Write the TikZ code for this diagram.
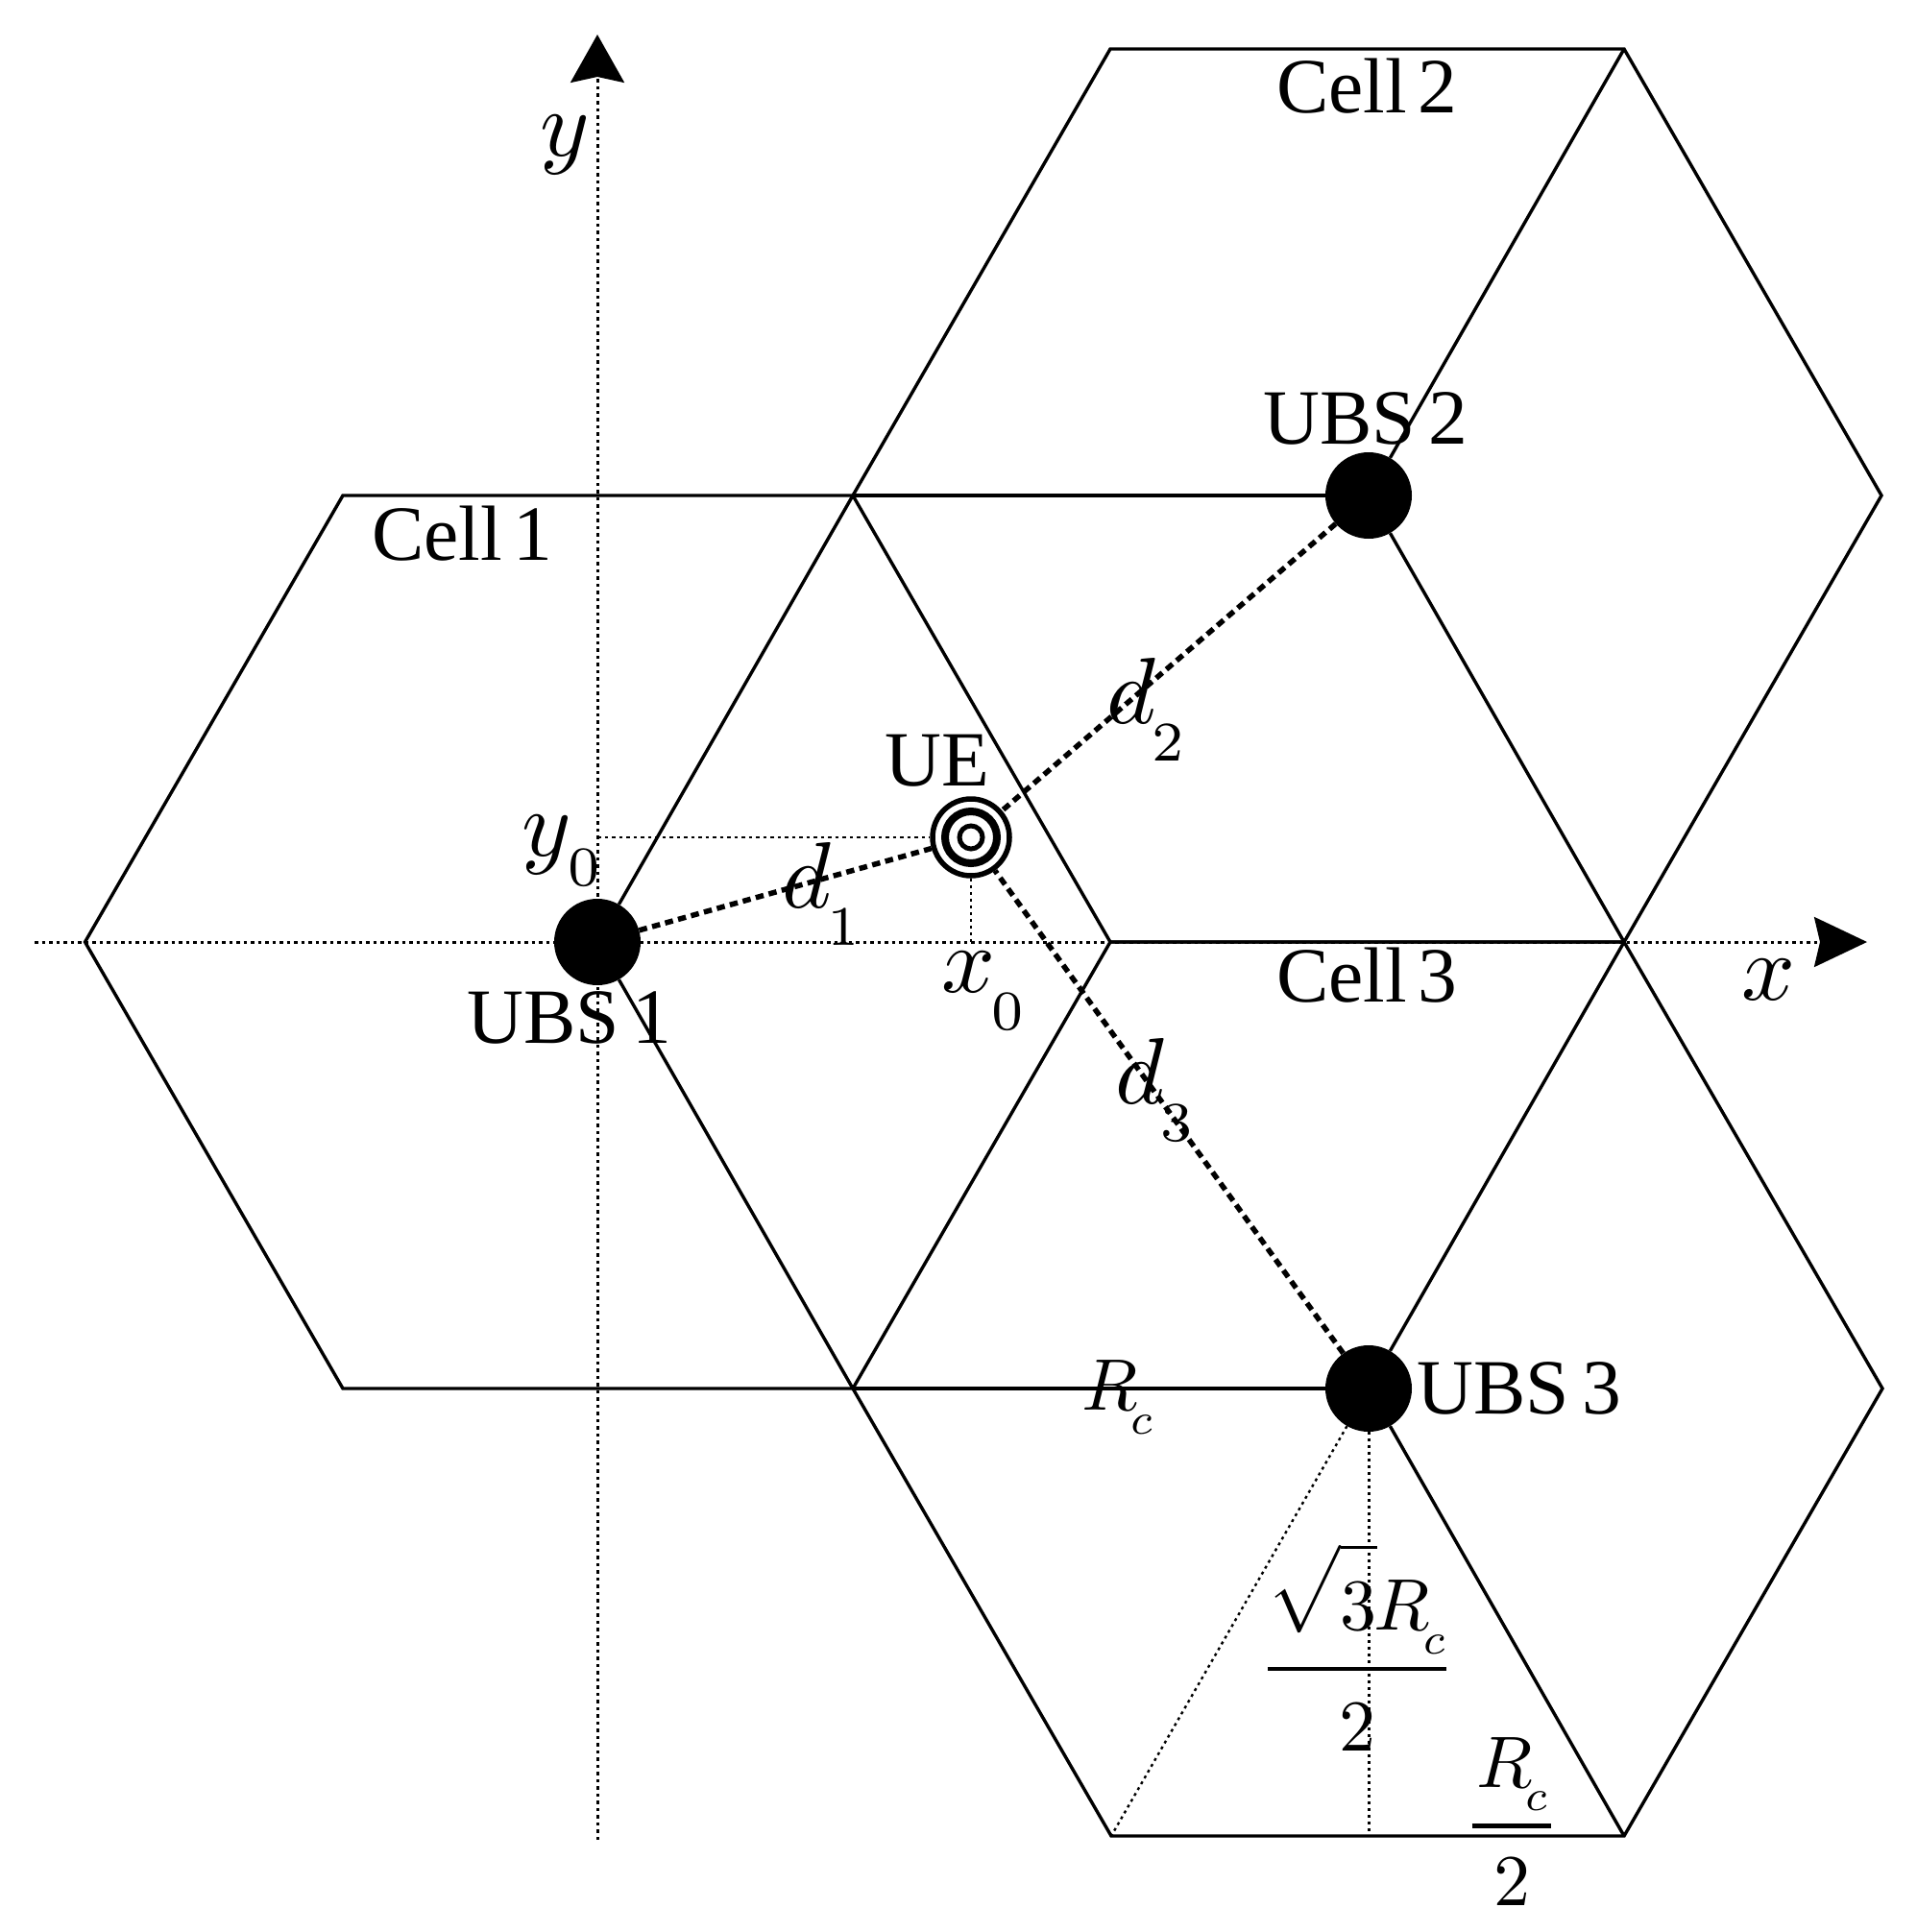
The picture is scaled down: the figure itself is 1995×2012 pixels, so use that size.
\documentclass[tikz,border=0pt]{standalone}
\usepackage[no-math]{fontspec}
\usepackage{graphicx}
\setmainfont{Liberation Serif}
\usetikzlibrary{arrows.meta}
\newcommand{\lsub}[2]{$#1$\kern-.4pt\raisebox{-4pt}{\scalebox{.85}{$\scriptstyle #2$}}}
\newcommand{\Rcc}{R\kern-1pt\raisebox{-3.2pt}{\scalebox{.85}{$\scriptstyle c$}}}
\tikzset{
  hex/.style={line width=3.4pt,line join=miter},
  axis/.style={line width=3pt,dash pattern=on 3.5pt off 4pt},
  fine/.style={line width=2.4pt,dash pattern=on 3pt off 4pt},
  link/.style={line width=5.5pt,dash pattern=on 8.5pt off 5.5pt},
  txt/.style={scale=8.15,inner sep=0pt},
  mth/.style={scale=9.8,inner sep=0pt},
  mthr/.style={scale=7.6,inner sep=0pt},
  ubs/.style={circle,fill=black,inner sep=0pt,minimum size=90pt},
  ring/.style={circle,draw=black,line width=5pt,inner sep=0pt},
}
\begin{document}
\begin{tikzpicture}[x=1pt,y=-1pt]
\useasboundingbox (0,0) rectangle (1995,2012);
\coordinate (L) at (88.5,981);
\coordinate (A) at (357,516);
\coordinate (B) at (888,516);
\coordinate (C) at (1156,981);
\coordinate (D) at (888,1446);
\coordinate (E) at (357,1446);
\coordinate (F) at (1156,51);
\coordinate (G) at (1691,51);
\coordinate (H) at (1959,516);
\coordinate (I) at (1691,981);
\coordinate (J) at (1960,1446);
\coordinate (K) at (1691,1912);
\coordinate (M) at (1157,1912);
\coordinate (N) at (1425,1912);
\coordinate (xs) at (36,981);
\coordinate (xe) at (1944,981);
\coordinate (ys) at (622,1916);
\coordinate (ye) at (622,36);
\coordinate (xf) at (1011,981);
\coordinate (yf) at (622,872);
\node[ubs] (u1) at (622,981) {};
\node[ubs] (u2) at (1425,516) {};
\node[ubs] (u3) at (1425,1446) {};
\node[ring,minimum size=80pt,line width=5.5pt] (ue) at (1011,872) {};
\node[ring,minimum size=54pt,line width=8pt] (uea) at (1011,872) {};
\node[ring,minimum size=24pt,line width=5pt] (ueb) at (1011,872) {};
% axes
\draw[axis,-{Stealth[length=55pt,width=52pt,inset=6pt,sep=0pt]}] (xs) -- (xe);
\draw[axis,-{Stealth[length=50pt,width=56pt,inset=6pt,sep=0pt]}] (ys) -- (ye);
% hexagons
\draw[hex] (L) -- (A) -- (B) -- (C) -- (D) -- (E) -- cycle;
\draw[hex] (B) -- (F) -- (G) -- (H) -- (I) -- (C);
\draw[hex] (C) -- (I) -- (J) -- (K) -- (M) -- (D);
\draw[hex] (u1) -- (B);
\draw[hex] (u1) -- (D);
\draw[hex] (B) -- (u2);
\draw[hex] (u2) -- (G);
\draw[hex] (u2) -- (I);
\draw[hex] (D) -- (u3);
\draw[hex] (u3) -- (I);
\draw[hex] (u3) -- (K);
% fine helpers
\draw[fine] (u3) -- (M);
\draw[fine,line width=3pt] (u3) -- (N);
\draw[axis,line width=2.8pt] (yf -| ys) -- (ue);
\draw[fine] (ue) -- (xf);
% links
\draw[link] (u1) -- (ue);
\draw[link] (u2) -- (ue);
\draw[link] (u3) -- (ue);
% labels
\node[txt] (c1) at (481,556) {Cell\kern.14em 1};
\node[txt] (c2) at (1423,90) {Cell\kern.14em 2};
\node[txt] (c3) at (1423,1016) {Cell\kern.14em 3};
\node[txt] (l1) at (593,1060) {UBS\kern.17em 1};
\node[txt] (l2) at (1422,436) {UBS\kern.17em 2};
\node[txt] (l3) at (1582,1446) {UBS\kern.17em 3};
\node[txt] (lue) at (976,792) {UE};
\node[mth] (ly) at (588,151) {$y$};
\node[mth] (lx) at (1841,1020) {$x$};
\node[mth] (ly0) at (584,886) {$y$\kern-.3pt\raisebox{-3.2pt}{\scalebox{.85}{$\scriptstyle 0$}}};
\node[mth] (lx0) at (1023,1032) {\lsub{x}{0}};
\node[mth] (d1) at (854.5,931) {\lsub{d}{1}};
\node[mth] (d2) at (1193,739) {\lsub{d}{2}};
\node[mth] (d3) at (1202,1135) {\lsub{d}{3}};
\node[mthr] (rc) at (1163,1455) {$\Rcc$};
\node[mthr] (f1) at (1413,1715) {$\displaystyle{\sqrt{\rule{0pt}{10.3pt}3}\kern-.4pt\Rcc\kern.2pt \above .6pt \rule{0pt}{9.1pt}2}$};
\node[mthr] (f2) at (1574,1897) {$\displaystyle{\kern.6pt\Rcc\kern.6pt \above .6pt \rule{0pt}{8.8pt}2}$};
\end{tikzpicture}
\end{document}
